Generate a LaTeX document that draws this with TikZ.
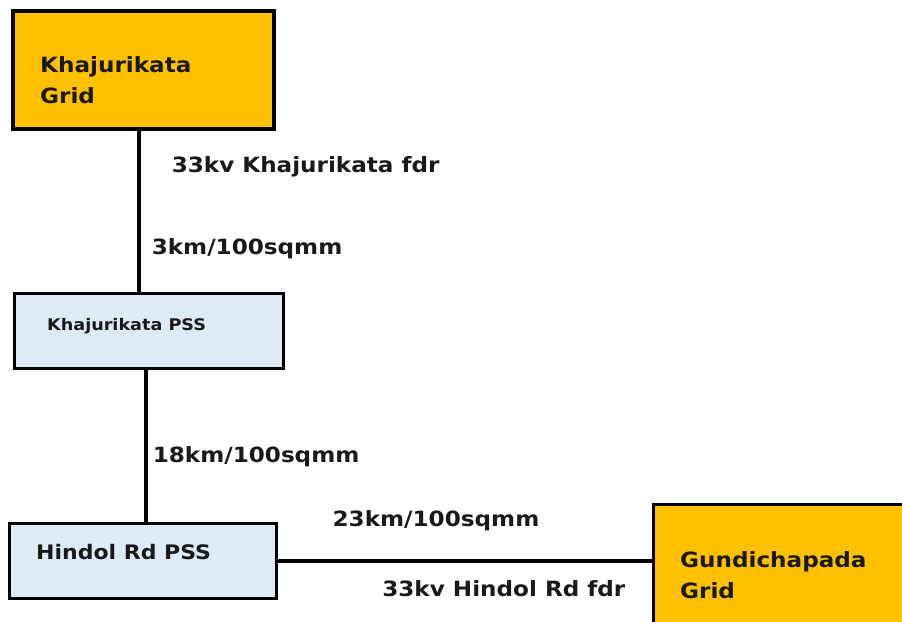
\documentclass[tikz,border=0pt]{standalone}
\usepackage{fontspec}
\setmainfont{DejaVu Sans}[FakeStretch=1.1]
\usepackage{xcolor}
\usetikzlibrary{positioning}
\definecolor{gridorange}{HTML}{FFC000}
\definecolor{pssblue}{HTML}{DEEBF7}
\tikzset{
  gridbox/.style={draw, line width=3.5pt, fill=gridorange, anchor=north west,
                  inner sep=0pt, outer sep=0pt},
  pssbox/.style={gridbox, fill=pssblue},
  boxtxt/.style={align=left, inner sep=0pt, text=black!90,
                 font=\bfseries\fontsize{21}{31}\selectfont},
  lbl/.style={inner sep=0pt, text=black!90,
              font=\bfseries\fontsize{21}{25}\selectfont},
  feeder/.style={line width=3.5pt},
}

\begin{document}
\begin{tikzpicture}[x=1pt, y=-1pt]
  \useasboundingbox (0,0) rectangle (902,621);
  \clip (0,0) rectangle (902,621);
  % substations and grids
  \node[gridbox, minimum width=261pt, minimum height=118pt] (kgrid) at (13,11) {};
  \node[pssbox, minimum width=269pt, minimum height=75pt] (kpss) at (14.5,293.5) {};
  \node[pssbox, minimum width=267pt, minimum height=75pt] (hpss) at (9.5,523.5) {};
  \node[gridbox, minimum width=300pt, minimum height=160pt] (ggrid) at (653.5,504.5) {};
  \node[boxtxt, below right=45pt and 27pt of kgrid.north west] (kgridtxt) {Khajurikata\\Grid};
  \node[boxtxt, font=\bfseries\fontsize{16}{20}\selectfont,
        below right=25pt and 32.5pt of kpss.north west] (kpsstxt) {Khajurikata PSS};
  \node[boxtxt, font=\bfseries\fontsize{20}{24}\selectfont,
        below right=21pt and 26.5pt of hpss.north west] (hpsstxt) {Hindol Rd PSS};
  \node[boxtxt, below right=46.5pt and 26.5pt of ggrid.north west] (ggridtxt) {Gundichapada\\Grid};
  % feeders
  \draw[feeder] ([xshift=-4.5pt]kgrid.south) -- ([xshift=-4.5pt]kgrid.south |- kpss.north)
    node[lbl, pos=0.23, right=31pt] (fdr1) {33kv Khajurikata fdr}
    node[lbl, pos=0.73, right=11pt] (len1) {3km/100sqmm};
  \draw[feeder] ([xshift=-3pt]kpss.south) -- ([xshift=-3pt]kpss.south |- hpss.north)
    node[lbl, pos=0.57, right=5pt] (len2) {18km/100sqmm};
  \draw[feeder] (hpss.east) -- (hpss.east -| ggrid.west)
    node[lbl, pos=0.423, yshift=40pt] (len3) {23km/100sqmm}
    node[lbl, pos=0.603, yshift=-28pt] (fdr2) {33kv Hindol Rd fdr};
\end{tikzpicture}
\end{document}
